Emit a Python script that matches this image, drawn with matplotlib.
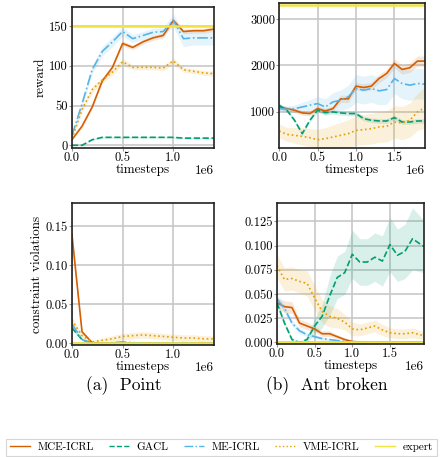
import numpy as np
import matplotlib
matplotlib.use("Agg")
import matplotlib.pyplot as plt

plt.rcParams['font.family'] = ['cmr10', 'DejaVu Serif']
plt.rcParams['mathtext.fontset'] = 'cm'
plt.rcParams['axes.formatter.use_mathtext'] = False
plt.rcParams['axes.unicode_minus'] = False

# colours (Okabe-Ito)
c_mce = '#d55e00'
c_gacl = '#009e73'
c_me = '#56b4e9'
c_vme = '#e69f00'
c_exp = '#f0e442'

# ---------------- Point: reward ----------------
pt_x = [0, 0.1, 0.2, 0.3, 0.4, 0.5, 0.6, 0.7, 0.8, 0.9, 1.0, 1.1, 1.2, 1.3, 1.4]
pt_rew_mce = [7, 24, 48, 81, 98, 128, 123, 130, 135, 138, 157, 143, 144, 144, 146]
pt_rew_mce_sd = [1, 2, 2, 2, 2, 3, 3, 3, 3, 3, 3, 3, 3, 3, 3]
pt_rew_gacl = [0, 0, 7, 10, 10, 10, 10, 10, 10, 10, 10, 9, 9, 9, 9]
pt_rew_gacl_sd = [0.5, 0.5, 1, 1, 1, 1, 1, 1, 1, 1, 1, 1, 1, 1, 1]
pt_rew_me = [12, 52, 95, 118, 130, 143, 134, 138, 142, 143, 157, 134, 135, 135, 135]
pt_rew_me_sd = [2, 4, 5, 6, 6, 6, 5, 5, 5, 5, 8, 10, 9, 9, 9]
pt_rew_vme = [8, 45, 70, 82, 92, 105, 98, 98, 98, 97, 106, 95, 93, 91, 90]
pt_rew_vme_sd = [1, 3, 4, 4, 4, 4, 3, 3, 3, 3, 4, 3, 3, 3, 3]
pt_rew_exp = 150

# ---------------- Point: constraint violations ----------------
pt_cv_mce = [0.14, 0.015, 0.001, 0, 0, 0, 0, 0, 0, 0, 0, 0, 0, 0, 0]
pt_cv_mce_sd = [0.004, 0.002, 0.0005, 0, 0, 0, 0, 0, 0, 0, 0, 0, 0, 0, 0]
pt_cv_gacl = [0.02, 0.005, 0, 0, 0, 0, 0, 0, 0, 0, 0, 0, 0, 0, 0]
pt_cv_gacl_sd = [0.003, 0.001, 0, 0, 0, 0, 0, 0, 0, 0, 0, 0, 0, 0, 0]
pt_cv_me = [0.025, 0.005, 0, 0, 0.001, 0.002, 0.001, 0.0005, 0.0005, 0.0005, 0.0005, 0.001, 0, 0, 0]
pt_cv_me_sd = [0.004, 0.002, 0, 0, 0.001, 0.001, 0.001, 0.0005, 0.0005, 0.0005, 0.0005, 0.001, 0, 0, 0]
pt_cv_vme = [0.03, 0.01, 0.002, 0.004, 0.006, 0.009, 0.01, 0.011, 0.01, 0.009, 0.008, 0.007, 0.007, 0.006, 0.006]
pt_cv_vme_sd = [0.004, 0.003, 0.002, 0.003, 0.004, 0.004, 0.004, 0.004, 0.004, 0.004, 0.004, 0.004, 0.004, 0.004, 0.004]

# ---------------- Ant broken: reward ----------------
ab_x = [0, 0.1, 0.2, 0.3, 0.4, 0.5, 0.6, 0.7, 0.8, 0.9, 1.0, 1.1, 1.2, 1.3, 1.4, 1.5, 1.6, 1.7, 1.8, 1.9]
ab_rew_mce = [1087, 1065, 1030, 971, 957, 1065, 1014, 1065, 1275, 1275, 1551, 1522, 1551, 1717, 1826, 2043, 1913, 1949, 2094, 2094]
ab_rew_mce_sd = [60, 50, 50, 50, 50, 60, 60, 60, 80, 80, 80, 80, 80, 90, 90, 100, 100, 100, 110, 110]
ab_rew_gacl = [1138, 1030, 812, 522, 812, 1030, 978, 993, 971, 957, 957, 848, 812, 797, 797, 870, 775, 775, 797, 797]
ab_rew_gacl_sd = [50, 40, 40, 40, 40, 50, 50, 50, 50, 50, 50, 50, 50, 50, 50, 50, 50, 50, 50, 50]
ab_rew_me = [1065, 1050, 1065, 1100, 1138, 1174, 1100, 1210, 1246, 1319, 1500, 1464, 1500, 1449, 1478, 1717, 1609, 1572, 1609, 1594]
ab_rew_me_sd = [60, 70, 80, 100, 120, 150, 180, 200, 220, 250, 300, 300, 300, 300, 320, 330, 330, 330, 330, 330]
ab_rew_vme = [580, 507, 486, 464, 435, 391, 413, 449, 486, 522, 594, 609, 630, 667, 681, 775, 754, 812, 993, 1087]
ab_rew_vme_sd = [150, 150, 170, 190, 200, 220, 240, 260, 280, 300, 320, 330, 330, 330, 340, 350, 360, 370, 400, 450]
ab_rew_exp = 3300

# ---------------- Ant broken: constraint violations ----------------
ab_cv_x = [0, 0.1, 0.2, 0.3, 0.4, 0.5, 0.6, 0.7, 0.8, 0.9, 1.0, 1.1, 1.2, 1.3, 1.4, 1.5, 1.6, 1.7, 1.8, 1.95]
ab_cv_mce = [0.041, 0.037, 0.036, 0.020, 0.017, 0.014, 0.009, 0.009, 0.006, 0.003, 0.001, 0.0005, 0.0003, 0.0003, 0.0003, 0.0003, 0.0003, 0.0003, 0.0003, 0.0003]
ab_cv_mce_sd = [0.006, 0.006, 0.006, 0.004, 0.004, 0.003, 0.003, 0.003, 0.002, 0.002, 0.001, 0.0005, 0.0003, 0.0003, 0.0003, 0.0003, 0.0003, 0.0003, 0.0003, 0.0003]
ab_cv_gacl = [0.041, 0.020, 0.003, 0.0, 0.003, 0.017, 0.027, 0.048, 0.067, 0.072, 0.091, 0.083, 0.083, 0.088, 0.084, 0.101, 0.090, 0.094, 0.107, 0.099]
ab_cv_gacl_sd = [0.004, 0.003, 0.002, 0.001, 0.003, 0.008, 0.012, 0.020, 0.022, 0.022, 0.025, 0.024, 0.024, 0.025, 0.026, 0.028, 0.027, 0.028, 0.032, 0.027]
ab_cv_me = [0.045, 0.035, 0.020, 0.012, 0.008, 0.006, 0.004, 0.003, 0.002, 0.001, 0.0005, 0.0005, 0.0005, 0.0005, 0.0005, 0.0005, 0.0005, 0.0005, 0.0005, 0.0005]
ab_cv_me_sd = [0.003, 0.004, 0.003, 0.003, 0.002, 0.002, 0.002, 0.001, 0.001, 0.001, 0.0005, 0.0005, 0.0005, 0.0005, 0.0005, 0.0005, 0.0005, 0.0005, 0.0005, 0.0005]
ab_cv_vme = [0.079, 0.065, 0.066, 0.063, 0.061, 0.046, 0.032, 0.027, 0.025, 0.021, 0.014, 0.013, 0.015, 0.017, 0.013, 0.010, 0.009, 0.009, 0.010, 0.007]
ab_cv_vme_sd = [0.012, 0.012, 0.012, 0.012, 0.013, 0.013, 0.012, 0.011, 0.010, 0.008, 0.007, 0.006, 0.006, 0.006, 0.006, 0.005, 0.005, 0.005, 0.005, 0.004]

labels = ['MCE-ICRL', 'GACL', 'ME-ICRL', 'VME-ICRL', 'expert']


def draw(ax, x, series, expert):
    x = np.array(x) * 1e6
    styles = [(c_mce, '-'), (c_gacl, '--'), (c_me, '-.'), (c_vme, ':')]
    for (m, sd), (col, ls), lab in zip(series, styles, labels):
        m = np.array(m)
        sd = np.array(sd)
        ax.fill_between(x, m - sd, m + sd, color=col, alpha=0.15, linewidth=0)
        ax.plot(x, m, color=col, ls=ls, lw=1.2, label=lab)
    ax.axhline(expert, color=c_exp, lw=1.8, label='expert')
    ax.set_xlim(x[0], x[-1])
    ax.grid(True, color='#c8c8c8', lw=1.2)
    ax.set_axisbelow(True)
    for s in ax.spines.values():
        s.set_linewidth(1.2)
        s.set_color('#222222')
    ax.tick_params(labelsize=9, length=2, width=0.8, color='#999999', pad=1)
    ax.set_xlabel('timesteps', fontsize=9.5, va='top')
    ax.xaxis.set_label_coords(0.5, -0.112)
    # scale factor drawn next to the axis label, like the original
    ax.xaxis.get_offset_text().set_visible(False)
    ax.text(1.0, -0.117, '1e6', transform=ax.transAxes, ha='right', va='top', fontsize=9.5)
    ax.set_xticks([t for t in [0, 0.5e6, 1.0e6, 1.5e6] if t <= x[-1]])
    ax.set_xticklabels(['%.1f' % (t / 1e6) for t in ax.get_xticks()])


fig = plt.figure(figsize=(4.41, 4.57), dpi=100)

ax1 = fig.add_axes([0.163, 0.676, 0.322, 0.309])
draw(ax1, pt_x, [(pt_rew_mce, pt_rew_mce_sd), (pt_rew_gacl, pt_rew_gacl_sd),
                 (pt_rew_me, pt_rew_me_sd), (pt_rew_vme, pt_rew_vme_sd)], pt_rew_exp)
ax1.set_ylim(-3.5, 174)
ax1.set_yticks([0, 50, 100, 150])
ax1.set_ylabel('reward', fontsize=9.5, labelpad=2)

ax2 = fig.add_axes([0.633, 0.676, 0.331, 0.317])
draw(ax2, ab_x, [(ab_rew_mce, ab_rew_mce_sd), (ab_rew_gacl, ab_rew_gacl_sd),
                 (ab_rew_me, ab_rew_me_sd), (ab_rew_vme, ab_rew_vme_sd)], ab_rew_exp)
ax2.set_ylim(210, 3348)
ax2.set_yticks([1000, 2000, 3000])

ax3 = fig.add_axes([0.163, 0.245, 0.322, 0.311])
draw(ax3, pt_x, [(pt_cv_mce, pt_cv_mce_sd), (pt_cv_gacl, pt_cv_gacl_sd),
                 (pt_cv_me, pt_cv_me_sd), (pt_cv_vme, pt_cv_vme_sd)], 0)
ax3.set_ylim(-0.002, 0.18)
ax3.set_yticks([0, 0.05, 0.10, 0.15])
ax3.set_yticklabels(['0.00', '0.05', '0.10', '0.15'])
ax3.set_ylabel('constraint violations', fontsize=9.5, labelpad=2)

ax4 = fig.add_axes([0.628, 0.247, 0.333, 0.309])
draw(ax4, ab_cv_x, [(ab_cv_mce, ab_cv_mce_sd), (ab_cv_gacl, ab_cv_gacl_sd),
                    (ab_cv_me, ab_cv_me_sd), (ab_cv_vme, ab_cv_vme_sd)], 0)
ax4.set_ylim(-0.0017, 0.144)
ax4.set_yticks([0, 0.025, 0.05, 0.075, 0.1, 0.125])
ax4.set_yticklabels(['0.000', '0.025', '0.050', '0.075', '0.100', '0.125'])

fig.text(124 / 441, 1 - 386 / 457, '(a)  Point', ha='center', va='center', fontsize=12.5)
fig.text(327 / 441, 1 - 386 / 457, '(b)  Ant broken', ha='center', va='center', fontsize=12.5)

handles, labs = ax1.get_legend_handles_labels()
leg = fig.legend(handles, labs, loc='center left', bbox_to_anchor=(6 / 441, 0.021), ncol=5,
                 fontsize=8, frameon=True, fancybox=False, handlelength=1.8,
                 handletextpad=0.7, columnspacing=1.35, borderpad=0.35,
                 borderaxespad=0)
leg.get_frame().set_edgecolor('#cccccc')
leg.get_frame().set_linewidth(0.8)
for line in leg.get_lines():
    line.set_linewidth(1.0)

fig.savefig('out.png', dpi=100)
